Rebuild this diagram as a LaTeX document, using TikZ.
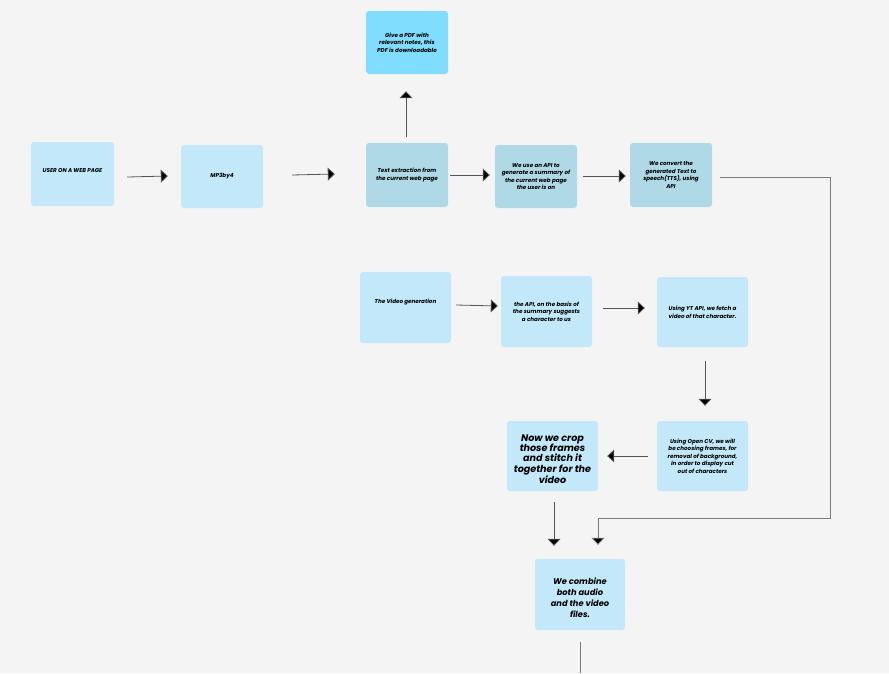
\documentclass[tikz,border=0pt]{standalone}
\usepackage{fontspec}
\setmainfont{Poppins}
\usetikzlibrary{arrows.meta}
\definecolor{bg}{HTML}{F4F4F4}
\definecolor{cyanbox}{HTML}{80DDFD}
\definecolor{pale}{HTML}{C2E8F9}
\definecolor{mid}{HTML}{AFD9E6}
\definecolor{linec}{HTML}{555555}
\definecolor{longc}{HTML}{7A7A7A}
\tikzset{
  box/.style={rectangle, rounded corners=3pt, draw=none, align=center, inner sep=1pt,
    font=\fontsize{5.6}{7.6}\selectfont\bfseries\itshape},
  croptxt/.style={font=\fontsize{9.6}{10.3}\selectfont\bfseries\itshape},
  combtxt/.style={font=\fontsize{8.3}{11}\selectfont\bfseries\itshape},
  conn/.style={draw=linec, line width=0.8pt, -{Triangle[length=7pt,width=13pt,fill=black]}},
  plain/.style={draw=linec, line width=0.8pt}
}
\begin{document}
\begin{tikzpicture}[x=1pt,y=-1pt]
\fill[bg] (0,0) rectangle (889,673);
\useasboundingbox (0,0) rectangle (889,673);
% boxes
\node[box, fill=cyanbox, minimum width=82pt, minimum height=63pt] (pdf) at (407,42.5) {Give a PDF with\\relevant notes, this\\PDF is downloadable};
\node[box, fill=pale, minimum width=83pt, minimum height=64pt] (user) at (72.5,174) {};
\node[box] (userlabel) at (72.5,171) {USER ON A WEB PAGE};
\node[box, fill=pale, minimum width=82pt, minimum height=63pt] (mp3) at (222,176.5) {MP3by4};
\node[box, fill=mid, minimum width=82pt, minimum height=64pt] (text) at (407,175) {Text extraction from\\the current web page};
\node[box, fill=mid, minimum width=82pt, minimum height=63pt] (sum) at (536,176.5) {We use an API to\\generate a summary of\\the current web page\\the user is on};
\node[box, fill=mid, minimum width=82pt, minimum height=64pt] (tts) at (671,175) {We convert the\\generated Text to\\speech(TTS), using\\API};
\node[box, fill=pale, minimum width=91pt, minimum height=71pt] (vid) at (405.5,307.5) {};
\node[box] (vidlabel) at (405.5,302) {The Video generation};
\node[box, fill=pale, minimum width=91pt, minimum height=71pt] (char) at (546.5,311.5) {the API, on the basis of\\the summary suggests\\a character to us};
\node[box, fill=pale, minimum width=91pt, minimum height=70pt] (yt) at (702.5,312) {Using YT API, we fetch a\\video of that character.};
\node[box, fill=pale, minimum width=91pt, minimum height=70pt] (cv) at (702.5,456) {Using Open CV, we will\\be choosing frames, for\\removal of background,\\in order to display cut\\out of characters};
\node[box, fill=pale, minimum width=91pt, minimum height=70pt] (crop) at (552.5,456) {};
\node[box, croptxt] (croplabel) at (552.5,459) {Now we crop\\those frames\\and stitch it\\together for the\\video};
\node[box, fill=pale, minimum width=90pt, minimum height=71pt] (comb) at (580,594.5) {};
\node[box, combtxt] (comblabel) at (580,597.5) {We combine\\both audio\\and the video\\files.};
\coordinate (endc) at (580,673);
\coordinate (corner) at (830,518);
% connectors
\draw[conn] ([xshift=13pt,yshift=-3pt]user.east) -- ([xshift=-13pt,yshift=0.5pt]mp3.west);
\draw[conn] ([xshift=29pt,yshift=1.5pt]mp3.east) -- ([xshift=-31pt,yshift=1pt]text.west);
\draw[conn] ([xshift=-1pt,yshift=6pt]text.north) -- ([xshift=-1pt,yshift=-17pt]pdf.south);
\draw[conn] ([xshift=2pt]text.east) -- ([xshift=-5pt,yshift=1.5pt]sum.west);
\draw[conn] ([xshift=6pt,yshift=0.5pt]sum.east) -- ([xshift=-4pt,yshift=-1pt]tts.west);
\draw[conn, draw=longc] ([xshift=8pt,yshift=-2pt]tts.east) -| (corner) -| ([xshift=18pt,yshift=14pt]comb.north);
\draw[conn] ([xshift=5pt,yshift=2.5pt]vid.east) -- ([xshift=-3pt,yshift=5.5pt]char.west);
\draw[conn] ([xshift=11pt,yshift=3.5pt]char.east) -- ([xshift=-12pt,yshift=4pt]yt.west);
\draw[conn] ([xshift=2.5pt,yshift=-14pt]yt.south) -- ([xshift=2.5pt,yshift=15pt]cv.north);
\draw[conn] ([xshift=-9pt]cv.west) -- ([xshift=9pt]crop.east);
\draw[conn] ([xshift=1.5pt,yshift=-11pt]crop.south) -- ([xshift=-26pt,yshift=13pt]comb.north);
\draw[plain, draw=longc] ([yshift=-12pt]comb.south) -- (endc);
\end{tikzpicture}
\end{document}
